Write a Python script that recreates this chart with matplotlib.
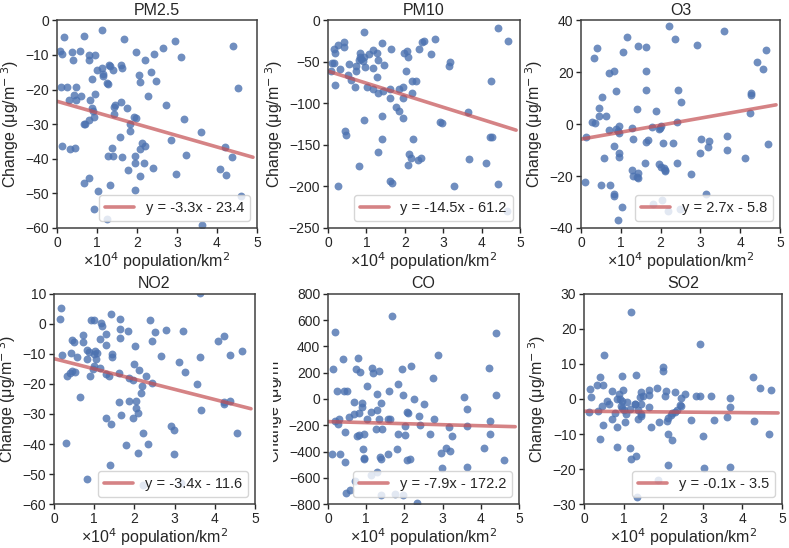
import numpy as np
import matplotlib
matplotlib.use("Agg")
import matplotlib.pyplot as plt
import seaborn as sns
from matplotlib.transforms import Bbox
from matplotlib.ticker import MultipleLocator

# x = population density (x10^4 /km2), y = change in concentration
pm25_x = [1.13, 0.18, 0.67, 1.67, 2.96, 4.39, 0.07, 0.13, 0.57, 0.38, 0.79, 0.94, 1.98, 2.42, 2.65,
          3.09, 0.40, 0.80, 2.19, 1.00, 1.13, 1.30, 1.33, 1.40, 1.60, 1.63, 1.15, 1.15, 2.04, 2.36,
          2.07, 2.48, 0.88, 0.11, 0.25, 0.48, 1.25, 1.27, 0.96, 0.43, 0.31, 0.48, 0.59, 0.83, 2.27,
          2.73, 1.60, 1.42, 1.46, 1.75, 0.88, 0.90, 0.92, 0.79, 0.71, 0.67, 1.42, 1.92, 1.98, 1.83,
          3.17, 1.83, 1.58, 2.86, 3.61, 0.13, 0.33, 0.46, 1.38, 2.13, 2.19, 2.08, 1.27, 1.40, 1.63,
          1.94, 3.23, 1.96, 2.17, 1.78, 2.39, 2.07, 2.97, 4.20, 4.37, 4.07, 4.22, 4.52, 0.68, 0.79,
          1.32, 1.02, 1.96, 0.93, 1.25, 3.63, 4.60]
pm25_y = [-2.8, -4.7, -4.5, -5.4, -6.0, -7.4, -8.8, -9.8, -9.0, -9.3, -10.0, -10.0, -9.2, -9.7, -8.1,
          -10.5, -11.5, -11.4, -11.4, -14.4, -13.9, -13.0, -13.3, -14.4, -13.0, -13.7, -16.1, -15.5,
          -15.8, -15.0, -17.7, -17.5, -16.9, -19.2, -19.2, -19.2, -18.0, -18.3, -21.3, -21.6, -22.9,
          -22.9, -22.0, -22.9, -22.0, -24.6, -23.7, -25.1, -24.4, -25.3, -25.3, -26.1, -28.0, -28.9,
          -29.9, -30.1, -27.0, -28.0, -28.2, -29.9, -28.6, -32.0, -33.6, -34.6, -32.2, -36.2, -37.2,
          -36.8, -36.8, -35.4, -36.3, -37.2, -39.1, -39.3, -39.5, -39.1, -38.9, -41.2, -41.2, -43.3,
          -42.8, -45.0, -44.5, -36.5, -39.6, -43.1, -44.7, -19.6, -46.9, -45.7, -47.6, -49.3, -49.0,
          -54.5, -57.5, -59.1, -50.7]

pm10_x = [0.94, 4.42, 4.69, 0.15, 0.17, 0.27, 0.41, 0.43, 0.11, 0.15, 0.09, 0.31, 0.19, 0.27, 0.45,
          0.48, 0.55, 0.51, 0.61, 0.72, 0.70, 0.72, 0.83, 0.83, 0.87, 0.81, 0.92, 0.96, 0.94, 1.02,
          1.07, 1.18, 1.27, 1.16, 1.18, 1.28, 1.29, 1.31, 1.40, 1.45, 1.44, 1.41, 1.40, 0.93, 0.81,
          1.29, 1.63, 1.61, 1.61, 1.61, 1.67, 1.77, 1.86, 1.86, 1.96, 1.96, 1.96, 1.99, 2.05, 2.03,
          2.09, 2.18, 2.28, 2.19, 2.22, 2.11, 2.16, 2.09, 2.34, 2.42, 2.38, 2.44, 2.51, 2.69, 2.79,
          2.91, 2.98, 3.14, 3.18, 3.27, 3.64, 3.66, 4.11, 4.25, 4.22, 4.26, 4.42, 4.65]
pm10_y = [-14.3, -9.5, -25.4, -34.5, -38.9, -29.8, -25.8, -31.7, -51.6, -51.6, -61.5, -58.7, -77.4,
          -199.2, -133, -138, -53.2, -65.5, -71.4, -61.5, -80.6, -55.6, -39.7, -43.7, -46.8, -48.4,
          -49.6, -56.7, -44.4, -80.6, -40.9, -35.7, -38.9, -57.5, -83.3, -68.7, -87.3, -48.4, -27.8,
          -53.6, -85.3, -115, -143, -120, -176, -158, -34.5, -83.3, -93.3, -194, -196, -104, -109,
          -83.3, -80, -94, -118, -39.7, -36.5, -60.7, -44.8, -73.4, -73.4, -87.3, -143, -160.7, -166,
          -174.6, -168.7, -166, -34.9, -25.8, -25, -40.9, -23, -122.6, -123.4, -54.8, -50.8, -199,
          -110, -167.5, -171.4, -72.6, -140, -141, -197, -230]

o3_x = [2.22, 3.59, 1.16, 2.36, 1.42, 2.91, 1.63, 0.41, 4.65, 1.05, 0.33, 4.43, 4.57, 0.83, 0.71,
        1.63, 0.87, 1.63, 2.44, 4.26, 4.26, 0.52, 2.52, 1.40, 0.45, 1.88, 4.25, 0.46, 0.64, 0.27,
        0.35, 2.40, 0.96, 1.29, 1.78, 1.98, 2.01, 1.95, 0.88, 0.92, 0.71, 0.95, 0.13, 1.30, 3.01,
        3.66, 1.63, 1.69, 2.07, 2.30, 3.22, 4.71, 0.83, 3.20, 3.66, 0.95, 0.96, 0.58, 2.99, 4.12,
        1.61, 2.42, 1.97, 2.00, 2.11, 2.11, 2.09, 1.29, 1.42, 1.30, 1.40, 1.44, 2.76, 0.10, 0.49,
        0.73, 0.83, 0.83, 3.14, 1.80, 2.03, 2.18, 2.49, 1.04, 0.92]
o3_y = [37.8, 35.8, 33.4, 32.6, 30.2, 30.4, 29.8, 29.2, 28.4, 27.6, 25.4, 24.0, 21.1, 20.6, 19.6,
        20.6, 12.7, 13.0, 13.0, 12.0, 11.1, 10.4, 8.4, 5.9, 6.2, 5.2, 4.3, 3.1, 3.1, 0.8, 0.4, 0.9,
        -0.8, -1.4, -1.1, -1.4, -0.8, -1.8, -2.0, -2.7, -2.4, -3.6, -5.0, -5.6, -5.6, -4.6, -6.8,
        -6.2, -7.4, -7.1, -6.4, -7.5, -8.5, -9.0, -9.9, -11.2, -12.6, -13.2, -11.2, -12.9, -14.8,
        -15.0, -15.4, -16.4, -17.6, -18.2, -16.9, -17.6, -18.9, -20.1, -20.5, -20.8, -19.1, -22.4,
        -23.3, -23.3, -26.9, -27.6, -26.9, -30.8, -29.4, -33.6, -32.6, -32.0, -37.1]

no2_x = [0.18, 0.16, 0.93, 1.00, 1.43, 1.64, 2.38, 1.16, 1.20, 3.63, 1.64, 2.78, 1.83, 2.51, 3.20,
         1.30, 0.71, 1.64, 1.15, 0.46, 0.51, 0.72, 2.43, 4.09, 4.22, 1.29, 2.01, 0.21, 0.42, 0.83,
         0.86, 1.01, 1.08, 0.99, 1.45, 1.45, 0.58, 0.82, 1.04, 2.67, 3.11, 3.63, 4.39, 4.67, 1.99,
         0.99, 0.97, 1.15, 2.12, 0.45, 0.52, 0.41, 0.32, 0.90, 1.29, 1.36, 1.61, 3.26, 2.29, 1.86,
         1.97, 2.45, 3.56, 2.19, 2.17, 0.64, 1.61, 1.86, 2.03, 2.05, 2.09, 4.23, 4.37, 4.23, 3.66,
         1.66, 1.30, 1.97, 1.43, 2.90, 2.99, 2.22, 4.54, 0.29, 1.80, 2.34, 2.09, 2.99, 1.40, 0.83,
         2.22, 3.17]
no2_y = [5.3, 1.7, 1.4, 1.1, 3.1, 1.6, 1.4, 0.3, -0.6, 10.4, -1.6, -2.0, -2.5, -2.7, -2.5, -3.5,
         -3.8, -4.6, -4.9, -5.3, -6.1, -6.1, -5.8, -5.8, -4.0, -7.1, -7.4, -10.5, -9.7, -8.8, -9.4,
         -8.9, -9.6, -10.1, -10.1, -11.2, -11.2, -11.8, -11.8, -10.7, -12.7, -11.2, -10.3, -8.9,
         -13.3, -14.0, -14.9, -14.8, -15.3, -15.6, -16.0, -16.4, -17.3, -17.5, -16.7, -17.3, -16.3,
         -16.2, -17.3, -18.0, -18.6, -19.7, -20.0, -20.8, -23.0, -24.3, -26.0, -25.8, -25.8, -27.9,
         -29.7, -25.9, -25.8, -26.8, -28.6, -30.5, -31.2, -31.3, -33.4, -34.1, -35.2, -36.2, -36.4,
         -39.6, -40.2, -40.1, -43.0, -43.4, -47.0, -51.6, -53.5, -53.1]

co_x = [1.67, 0.18, 4.39, 2.88, 0.39, 0.79, 0.13, 0.74, 1.14, 0.85, 1.17, 1.33, 1.95, 2.16, 4.21,
        2.75, 1.84, 1.01, 0.23, 0.41, 0.50, 1.61, 1.27, 1.96, 2.26, 3.57, 4.39, 0.68, 0.88, 0.90,
        1.39, 2.51, 1.27, 1.13, 3.64, 2.08, 2.10, 2.39, 1.01, 0.19, 0.30, 0.55, 0.68, 0.81, 1.33,
        1.57, 1.63, 2.77, 4.23, 0.27, 2.42, 3.64, 2.02, 3.17, 1.26, 1.42, 0.45, 0.93, 0.80, 0.77,
        1.84, 2.01, 2.67, 3.25, 4.23, 0.92, 1.81, 3.10, 3.19, 4.08, 2.96, 0.10, 0.32, 1.57, 0.93,
        0.94, 1.37, 1.40, 2.06, 2.15, 4.62, 0.45, 2.99, 3.64, 1.27, 1.13, 0.70, 0.58, 0.48, 1.40,
        1.75, 1.97, 2.33]
co_y = [633, 510, 502, 333, 300, 315, 225, 230, 237, 207, 199, 214, 225, 247, 232, 162, 116, 101,
        63, 58, 63, 63, 40, 30, 0, 18, 28, -23, -33, -58, -33, -35, -83, -98, -78, -98, -108, -129,
        -151, -166, -154, -141, -111, -109, -151, -149, -149, -154, -166, -192, -197, -202, -204,
        -215, -225, -227, -255, -265, -275, -285, -268, -273, -268, -285, -270, -381, -381, -374,
        -394, -376, -409, -419, -419, -419, -452, -459, -439, -459, -467, -454, -462, -482, -525,
        -515, -553, -575, -626, -694, -714, -727, -719, -734, -790]

so2_x = [1.18, 2.94, 0.51, 1.99, 2.00, 1.31, 0.41, 0.96, 4.27, 0.32, 0.47, 4.45, 0.15, 0.70, 0.99,
         1.45, 1.64, 1.83, 2.07, 2.30, 2.54, 4.72, 0.17, 0.88, 1.49, 1.63, 2.04, 2.82, 2.93, 3.21,
         3.68, 0.90, 0.95, 0.83, 1.42, 2.44, 0.59, 0.63, 0.45, 1.08, 1.29, 1.29, 1.44, 0.94, 0.96,
         1.63, 2.42, 2.44, 3.69, 0.12, 0.35, 1.01, 1.16, 1.37, 2.36, 0.79, 1.05, 1.44, 1.44, 2.22,
         2.30, 1.36, 2.11, 2.19, 3.62, 0.70, 1.03, 2.10, 1.89, 2.71, 3.29, 4.28, 0.49, 1.68, 0.83,
         0.41, 2.13, 2.21, 3.00, 4.68, 0.83, 1.16, 1.32, 1.19, 2.11, 3.03, 3.68, 1.88, 1.35]
so2_y = [24.7, 15.6, 12.4, 9.1, 8.1, 6.9, 6.3, 6.4, 6.3, 4.0, 4.0, 3.2, 2.7, 2.3, 2.5, 2.1, 2.6, 3.0,
         2.2, 1.9, 1.5, 2.5, 0.6, 1.3, 0.9, 1.2, 0.8, 0.7, 0.9, 0.9, 0.3, -0.1, -0.6, 0.1, 0.6, 0.2,
         -0.6, -1.4, -2.0, -1.0, -1.3, -1.5, -1.4, -1.9, -2.7, -2.2, -1.7, -2.0, -2.2, -3.7, -3.4,
         -3.2, -2.9, -3.2, -3.2, -3.9, -4.4, -4.4, -4.9, -3.9, -3.7, -5.6, -5.3, -4.6, -5.1, -5.8,
         -6.5, -6.4, -6.5, -6.0, -6.0, -6.2, -7.5, -8.1, -7.9, -11.3, -10.0, -11.6, -10.5, -10.1,
         -13.6, -14.0, -16.3, -17.1, -18.7, -19.8, -19.5, -23.1, -27.9]

pollutants = ["PM2.5", "PM10", "O3", "NO2", "CO", "SO2"]
slopes = [-3.3, -14.5, 2.7, -3.4, -7.9, -0.1]
intercepts = [-23.4, -61.2, -5.8, -11.6, -172.2, -3.5]
ylims = [(-60, 0), (-250, 0), (-40, 40), (-60, 10), (-800, 800), (-30, 30)]
ysteps = [10, 50, 20, 10, 200, 10]
line_end = 4.9

xs = [pm25_x, pm10_x, o3_x, no2_x, co_x, so2_x]
ys = [pm25_y, pm10_y, o3_y, no2_y, co_y, so2_y]

sns.set_theme(style="ticks")
plt.rcParams["font.family"] = ["Liberation Sans", "DejaVu Sans"]

fig = plt.figure(figsize=(7.89, 5.48), dpi=100)

# axes boxes in figure fraction (left, bottom, width, height)
boxes = [
    (0.0722, 0.584, 0.2535, 0.379),
    (0.4157, 0.584, 0.2433, 0.379),
    (0.7364, 0.584, 0.2522, 0.379),
    (0.0684, 0.0800, 0.2548, 0.384),
    (0.4157, 0.0800, 0.2421, 0.384),
    (0.7402, 0.0800, 0.2510, 0.384),
]

blue = "#4C72B0"
red = "#C44E52"

axes = []
for i, name in enumerate(pollutants):
    ax = fig.add_axes(boxes[i])
    ax.scatter(xs[i], ys[i], s=32, color=blue, alpha=0.8, linewidths=0)
    lx = np.array([0, line_end])
    ly = slopes[i] * lx + intercepts[i]
    sign = "-" if intercepts[i] < 0 else "+"
    label = f"y = {slopes[i]:.1f}x {sign} {abs(intercepts[i]):.1f}"
    ax.plot(lx, ly, color=red, alpha=0.7, lw=2.6, label=label)
    ax.set_xlim(0, 5)
    ax.set_ylim(*ylims[i])
    ax.xaxis.set_major_locator(MultipleLocator(1))
    ax.yaxis.set_major_locator(MultipleLocator(ysteps[i]))
    ax.set_title(name, fontsize=11.5, pad=4)
    ax.set_xlabel("×10$^4$ population/km$^2$", fontsize=11.5, labelpad=0.5)
    ax.set_ylabel("Change (μg/m$^{-\\;3}$)", fontsize=11.5, labelpad=3)
    ax.tick_params(labelsize=10, length=3.5, width=1, pad=2, color=".15")
    for sp in ax.spines.values():
        sp.set_color(".25")
        sp.set_linewidth(1.1)
    ax.legend(loc="lower right", fontsize=10.5)
    axes.append(ax)

# in the reference the CO y label is mostly hidden; only its right part shows
fig.canvas.draw()
co_label = axes[4].yaxis.label
bb = co_label.get_window_extent()
co_label.set_clip_box(Bbox.from_extents(bb.x0 + 0.45 * bb.width, bb.y0,
                                        bb.x1 + 1, bb.y1 - 14))
co_label.set_clip_on(True)

plt.savefig("out.png", dpi=100)
